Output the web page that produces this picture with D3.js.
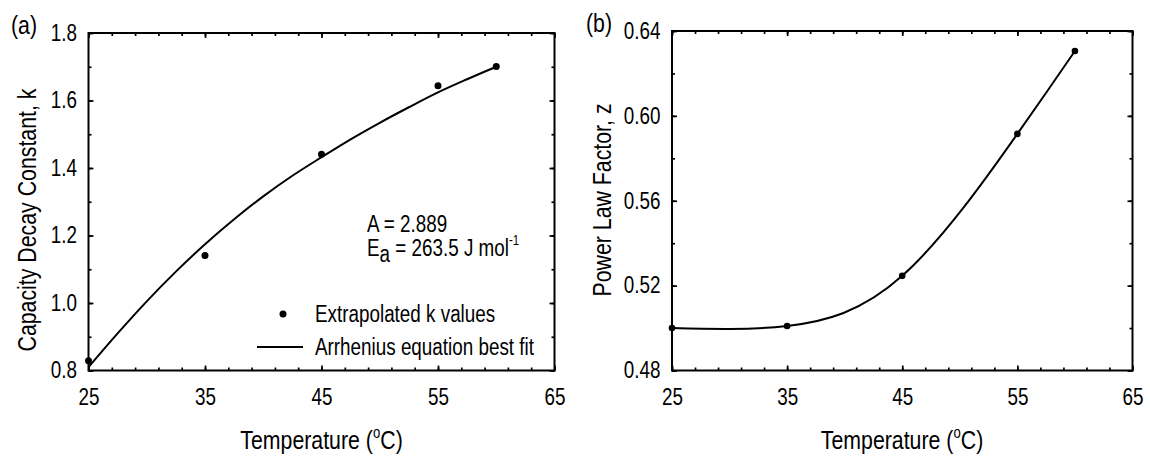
<!DOCTYPE html>
<html>
<head>
<meta charset="utf-8">
<script src="https://cdn.jsdelivr.net/npm/d3@7"></script>
<style>
  html, body { margin: 0; padding: 0; background: #fff; }
  svg text { font-family: "Liberation Sans", Arial, sans-serif; fill: #000; }
</style>
</head>
<body>
<svg id="chart" width="1150" height="464"></svg>
<script>
// Temperatures (°C) at which k and z were extracted
const temps = [25, 35, 45, 55, 60];
// Panel (a): extrapolated capacity decay constants
const kValues = [0.829, 1.141, 1.441, 1.644, 1.701];
// Panel (a): Arrhenius best-fit curve, sampled along temperature
const fitTemps = [25, 27.5, 30, 32.5, 35, 37.5, 40, 42.5, 45, 47.5, 50, 52.5, 55, 57.5, 60];
const fitK = [0.810, 0.910, 1.005, 1.093, 1.174, 1.248, 1.316, 1.377, 1.432, 1.485, 1.534, 1.580, 1.624, 1.663, 1.700];
// Panel (b): power law factors
const zValues = [0.500, 0.501, 0.5246, 0.5915, 0.6306];

// Axis tick values
const xMajor = [25, 35, 45, 55, 65];
const xMinor = d3.range(25, 65.01, 2);
const kMajor = [0.8, 1.0, 1.2, 1.4, 1.6, 1.8];
const kMinor = d3.range(0.8, 1.801, 0.1);
const zMajor = [0.48, 0.52, 0.56, 0.60, 0.64];
const zMinor = d3.range(0.48, 0.6401, 0.02);

// Horizontal squeeze giving a condensed sans face
const NARROW = 0.82;

const svg = d3.select("#chart");
svg.append("rect").attr("width", 1150).attr("height", 464).attr("fill", "#fff");

// Condensed text anchored at (x, y), optionally rotated
function ntext(parent, x, y, size, anchor, rotate) {
  const g = parent.append("g")
    .attr("transform", `translate(${x},${y})` + (rotate ? ` rotate(${rotate})` : "") + ` scale(${NARROW},1)`);
  return g.append("text").attr("font-size", size).attr("text-anchor", anchor || "start");
}

function framedAxes(g, x, y, yMajor, yMinor, yFmt) {
  const [x0, x1] = x.range();
  const [y0, y1] = y.range(); // y0 bottom, y1 top
  const tick = (sel) => {
    sel.select(".domain").remove();
    sel.selectAll(".tick line").attr("stroke", "#000").attr("stroke-width", 1.7);
  };
  const squeeze = (sel) => sel.selectAll("text")
    .attr("font-size", 23).attr("font-family", null)
    .attr("transform", `scale(${NARROW},1)`);
  // bottom
  g.append("g").attr("transform", `translate(0,${y0})`)
    .call(d3.axisBottom(x).tickValues(xMinor).tickSizeInner(-3).tickSizeOuter(0).tickFormat(""))
    .call(tick);
  g.append("g").attr("transform", `translate(0,${y0})`)
    .call(d3.axisBottom(x).tickValues(xMajor).tickSizeInner(-5).tickSizeOuter(0).tickPadding(18).tickFormat(d3.format("d")))
    .call(tick).call(squeeze);
  // top
  g.append("g").attr("transform", `translate(0,${y1})`)
    .call(d3.axisTop(x).tickValues(xMinor).tickSizeInner(-3).tickSizeOuter(0).tickFormat(""))
    .call(tick);
  g.append("g").attr("transform", `translate(0,${y1})`)
    .call(d3.axisTop(x).tickValues(xMajor).tickSizeInner(-5).tickSizeOuter(0).tickFormat(""))
    .call(tick);
  // left
  g.append("g").attr("transform", `translate(${x0},0)`)
    .call(d3.axisLeft(y).tickValues(yMinor).tickSizeInner(-3).tickSizeOuter(0).tickFormat(""))
    .call(tick);
  g.append("g").attr("transform", `translate(${x0},0)`)
    .call(d3.axisLeft(y).tickValues(yMajor).tickSizeInner(-5).tickSizeOuter(0).tickPadding(14).tickFormat(yFmt))
    .call(tick).call(squeeze);
  // right
  g.append("g").attr("transform", `translate(${x1},0)`)
    .call(d3.axisRight(y).tickValues(yMinor).tickSizeInner(-3).tickSizeOuter(0).tickFormat(""))
    .call(tick);
  g.append("g").attr("transform", `translate(${x1},0)`)
    .call(d3.axisRight(y).tickValues(yMajor).tickSizeInner(-5).tickSizeOuter(0).tickFormat(""))
    .call(tick);
  // frame
  g.append("rect")
    .attr("x", x0).attr("y", y1).attr("width", x1 - x0).attr("height", y0 - y1)
    .attr("fill", "none").attr("stroke", "#000").attr("stroke-width", 2);
}

function xTitle(g, cx, baseline) {
  const t = ntext(g, cx, baseline, 26, "middle");
  t.append("tspan").text("Temperature (");
  t.append("tspan").attr("font-size", 16).attr("dy", -11).text("o");
  t.append("tspan").attr("dy", 11).text("C)");
}

// ---------- Panel (a) ----------
const ga = svg.append("g");
const xa = d3.scaleLinear().domain([25, 65]).range([88.5, 554.5]);
const ya = d3.scaleLinear().domain([0.8, 1.8]).range([370.5, 33]);

framedAxes(ga, xa, ya, kMajor, kMinor, d3.format(".1f"));

ga.append("path")
  .datum(fitTemps.map((t, i) => [t, fitK[i]]))
  .attr("fill", "none").attr("stroke", "#000").attr("stroke-width", 2)
  .attr("d", d3.line().x(d => xa(d[0])).y(d => ya(d[1])).curve(d3.curveMonotoneX));

ga.selectAll("circle.k").data(temps).join("circle")
  .attr("class", "k")
  .attr("cx", d => xa(d)).attr("cy", (d, i) => ya(kValues[i])).attr("r", 3.5).attr("fill", "#000");

// fitted parameters
ntext(ga, 367, 232, 23).text("A = 2.889");
const ea = ntext(ga, 367, 256, 23);
ea.append("tspan").text("E");
ea.append("tspan").attr("dy", 6).text("a");
ea.append("tspan").attr("dy", -6).text(" = 263.5 J mol");
ea.append("tspan").attr("dy", -11).attr("font-size", 14).text("-1");

// legend
ga.append("circle").attr("cx", 283).attr("cy", 314).attr("r", 3.5).attr("fill", "#000");
ntext(ga, 315, 322, 23).text("Extrapolated k values");
ga.append("line").attr("x1", 257).attr("x2", 303).attr("y1", 347).attr("y2", 347)
  .attr("stroke", "#000").attr("stroke-width", 2);
ntext(ga, 315, 355, 23).text("Arrhenius equation best fit");

xTitle(ga, 321.5, 449);
ntext(ga, 36, 220, 26, "middle", -90).text("Capacity Decay Constant, k");
ntext(ga, 11, 34, 26).text("(a)");

// ---------- Panel (b) ----------
const gb = svg.append("g");
const xb = d3.scaleLinear().domain([25, 65]).range([672, 1132.5]);
const yb = d3.scaleLinear().domain([0.48, 0.64]).range([370.5, 31]);

framedAxes(gb, xb, yb, zMajor, zMinor, d3.format(".2f"));

gb.append("path")
  .datum(temps.map((t, i) => [t, zValues[i]]))
  .attr("fill", "none").attr("stroke", "#000").attr("stroke-width", 2)
  .attr("d", d3.line().x(d => xb(d[0])).y(d => yb(d[1])).curve(d3.curveNatural));

gb.selectAll("circle.z").data(temps).join("circle")
  .attr("class", "z")
  .attr("cx", d => xb(d)).attr("cy", (d, i) => yb(zValues[i])).attr("r", 3.3).attr("fill", "#000");

xTitle(gb, 902, 449);
ntext(gb, 611, 200, 26, "middle", -90).text("Power Law Factor, z");
ntext(gb, 586, 32, 26).text("(b)");
</script>
</body>
</html>
